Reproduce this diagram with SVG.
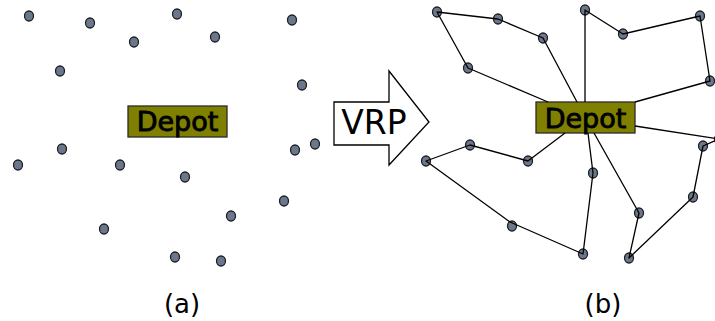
<svg xmlns="http://www.w3.org/2000/svg" width="715" height="321" viewBox="0 0 715 321">
<style>
.n{fill:#6b778c;stroke:#1e1e1e;stroke-width:1.3}
.dep rect{fill:#808000;stroke:#2a2a2a;stroke-width:1.3}
.dep text{font-family:"DejaVu Sans",sans-serif;font-size:27px;fill:#000;stroke:#000;stroke-width:0.9;text-anchor:middle}
.lbl{font-family:"DejaVu Sans",sans-serif;font-size:26px;fill:#000;text-anchor:middle}
.e{fill:none;stroke:#000;stroke-width:1.3;stroke-linejoin:round}
</style>
<rect width="715" height="321" fill="#fff"/>
<g id="panel-a">
<g id="a1"><ellipse class="n" cx="29" cy="16" rx="4.5" ry="5"/></g>
<g id="a2"><ellipse class="n" cx="90" cy="23" rx="4.5" ry="5"/></g>
<g id="a3"><ellipse class="n" cx="177" cy="14" rx="4.5" ry="5"/></g>
<g id="a4"><ellipse class="n" cx="292" cy="20" rx="4.5" ry="5"/></g>
<g id="a5"><ellipse class="n" cx="134" cy="42" rx="4.5" ry="5"/></g>
<g id="a6"><ellipse class="n" cx="215" cy="37" rx="4.5" ry="5"/></g>
<g id="a7"><ellipse class="n" cx="60" cy="71" rx="4.5" ry="5"/></g>
<g id="a8"><ellipse class="n" cx="302" cy="85" rx="4.5" ry="5"/></g>
<g id="a9"><ellipse class="n" cx="62" cy="149" rx="4.5" ry="5"/></g>
<g id="a10"><ellipse class="n" cx="295" cy="150" rx="4.5" ry="5"/></g>
<g id="a11"><ellipse class="n" cx="315" cy="144" rx="4.5" ry="5"/></g>
<g id="a12"><ellipse class="n" cx="18" cy="165" rx="4.5" ry="5"/></g>
<g id="a13"><ellipse class="n" cx="120" cy="165" rx="4.5" ry="5"/></g>
<g id="a14"><ellipse class="n" cx="185" cy="177" rx="4.5" ry="5"/></g>
<g id="a15"><ellipse class="n" cx="284" cy="201" rx="4.5" ry="5"/></g>
<g id="a16"><ellipse class="n" cx="231" cy="216" rx="4.5" ry="5"/></g>
<g id="a17"><ellipse class="n" cx="104" cy="229" rx="4.5" ry="5"/></g>
<g id="a18"><ellipse class="n" cx="175" cy="257" rx="4.5" ry="5"/></g>
<g id="a19"><ellipse class="n" cx="221" cy="261" rx="4.5" ry="5"/></g>
<g id="depot-a" class="dep"><rect x="128" y="106" width="99" height="31"/><text x="177.5" y="131">Depot</text></g>
<text class="lbl" x="182" y="313">(a)</text>
</g>
<g id="vrp-arrow">
<path d="M334,102 H389 V71 L429,122 L389,165 V145 H334 Z" fill="#fff" stroke="#000" stroke-width="1.3"/>
<text x="374" y="134" style="font-family:'DejaVu Sans',sans-serif;font-size:33px;text-anchor:middle">VRP</text>
</g>
<g id="panel-b">
<g id="b1"><ellipse class="n" cx="437" cy="12" rx="4.5" ry="5"/></g>
<g id="b2"><ellipse class="n" cx="498" cy="19" rx="4.5" ry="5"/></g>
<g id="b3"><ellipse class="n" cx="543" cy="38" rx="4.5" ry="5"/></g>
<g id="b4"><ellipse class="n" cx="468" cy="68" rx="4.5" ry="5"/></g>
<g id="b5"><ellipse class="n" cx="585" cy="10" rx="4.5" ry="5"/></g>
<g id="b6"><ellipse class="n" cx="623" cy="34" rx="4.5" ry="5"/></g>
<g id="b7"><ellipse class="n" cx="700" cy="16" rx="4.5" ry="5"/></g>
<g id="b8"><ellipse class="n" cx="710" cy="81" rx="4.5" ry="5"/></g>
<g id="b9"><ellipse class="n" cx="703" cy="146" rx="4.5" ry="5"/></g>
<g id="b10"><ellipse class="n" cx="719" cy="139" rx="4.5" ry="5"/></g>
<g id="b11"><ellipse class="n" cx="693" cy="197" rx="4.5" ry="5"/></g>
<g id="b12"><ellipse class="n" cx="639" cy="213" rx="4.5" ry="5"/></g>
<g id="b13"><ellipse class="n" cx="629" cy="258" rx="4.5" ry="5"/></g>
<g id="b14"><ellipse class="n" cx="593" cy="173" rx="4.5" ry="5"/></g>
<g id="b15"><ellipse class="n" cx="583" cy="254" rx="4.5" ry="5"/></g>
<g id="b16"><ellipse class="n" cx="512" cy="226" rx="4.5" ry="5"/></g>
<g id="b17"><ellipse class="n" cx="426" cy="161" rx="4.5" ry="5"/></g>
<g id="b18"><ellipse class="n" cx="470" cy="145" rx="4.5" ry="5"/></g>
<g id="b19"><ellipse class="n" cx="528" cy="161" rx="4.5" ry="5"/></g>
<g id="depot-b" class="dep"><rect x="536" y="102" width="99" height="31"/><text x="585.5" y="128">Depot</text></g>
<text class="lbl" x="603" y="313">(b)</text>
</g>
<g id="connectors">
<polyline class="e" points="548,102 468,68 437,12 498,19 543,38 577,102"/>
<polyline class="e" points="585,102 585,10 623,34 700,16 710,81 635,102"/>
<polyline class="e" points="635,126 719,139 703,146 693,197 629,258 639,213 594,133"/>
<polyline class="e" points="565,133 528,161 470,145 426,161 510,222 583,254 593,173 588,133"/>
</g>
</svg>
